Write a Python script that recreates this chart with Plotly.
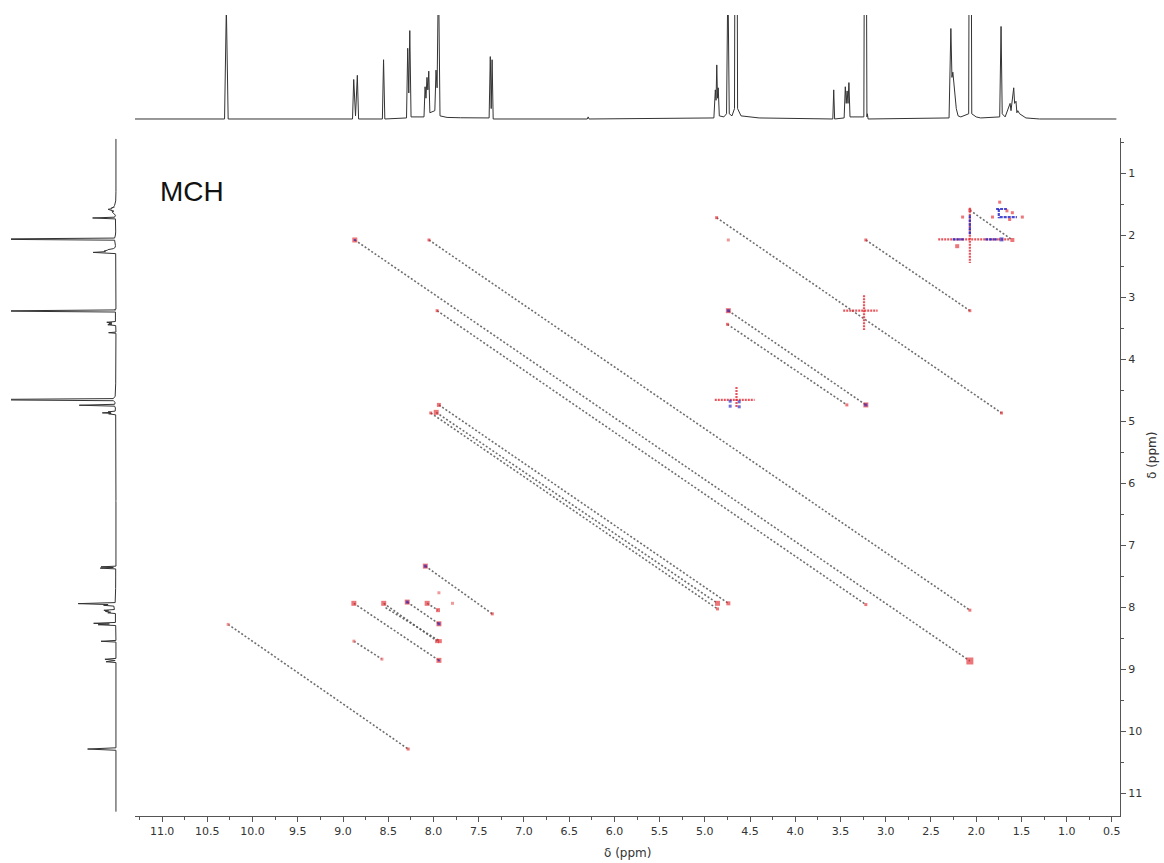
import plotly.graph_objects as go

W, H = 1164, 863

# ---------------- 1D projection trace (ppm, intensity; 1.0 = top of upper panel) ----------------
spec_ppm = [11.30, 10.31, 10.29, 10.27,
            8.895, 8.882, 8.862, 8.842, 8.828,
            8.565, 8.552, 8.538,
            8.298, 8.285, 8.273, 8.262, 8.248,
            8.105, 8.093, 8.083, 8.072, 8.062, 8.052, 8.040, 7.985, 7.972, 7.960, 7.945, 7.928,
            7.85, 7.70, 7.50,
            7.385, 7.372, 7.362, 7.352, 7.340,
            6.30, 6.29, 6.28,
            4.90, 4.884, 4.876, 4.868, 4.860, 4.852, 4.840, 4.790, 4.760, 4.745, 4.730, 4.700,
            4.672, 4.655, 4.638, 4.60, 4.40,
            3.585, 3.575, 3.565,
            3.46, 3.447, 3.437, 3.427, 3.417, 3.407, 3.395,
            3.242, 3.225, 3.208, 3.203, 3.195,
            2.30, 2.280, 2.268, 2.258, 2.245, 2.235, 2.220, 2.200, 2.170,
            2.083, 2.066, 2.049, 2.00, 1.95,
            1.74, 1.725, 1.712, 1.68,
            1.625, 1.615, 1.585, 1.575, 1.560, 1.550, 1.540, 1.520, 1.500, 1.45, 1.30, 0.45]
spec_int = [0.0, 0.0, 1.08, 0.0,
            0.0, 0.38, 0.03, 0.42, 0.0,
            0.0, 0.57, 0.0,
            0.01, 0.68, 0.25, 0.85, 0.02,
            0.02, 0.31, 0.20, 0.40, 0.28, 0.46, 0.06, 0.08, 0.47, 0.30, 1.44, 0.03,
            0.015, 0.012, 0.01,
            0.01, 0.60, 0.10, 0.57, 0.0,
            0.0, 0.02, 0.0,
            0.01, 0.28, 0.18, 0.52, 0.20, 0.30, 0.03, 0.02, 0.05, 1.40, 0.05, 0.03,
            0.10, 6.0, 0.10, 0.03, 0.01,
            0.0, 0.28, 0.0,
            0.01, 0.31, 0.15, 0.27, 0.15, 0.35, 0.02,
            0.02, 5.0, 0.02, 0.05, 0.0,
            0.01, 0.87, 0.40, 0.45, 0.33, 0.30, 0.10, 0.03, 0.02,
            0.05, 5.5, 0.05, 0.02, 0.01,
            0.02, 0.89, 0.05, 0.02,
            0.15, 0.08, 0.30, 0.15, 0.17, 0.06, 0.08, 0.05, 0.04, 0.01, 0.0, 0.0]

# ---------------- 2D cross peaks ----------------
pos_x = [8.87, 8.05, 7.96, 7.94, 7.97, 8.03, 4.74, 4.75, 3.22, 3.43, 3.22, 2.07, 2.07, 2.07,
         3.22, 4.74, 4.86, 4.86, 4.87, 1.72, 8.09, 7.35, 8.88, 7.94, 8.55, 7.96, 7.93, 8.29,
         7.94, 8.07, 7.95, 8.28, 2.07, 1.60, 1.66, 1.60, 1.63, 1.49, 1.82, 2.15, 1.74, 2.21]
pos_y = [2.08, 2.08, 3.22, 4.74, 4.86, 4.87, 3.22, 3.44, 4.74, 4.74, 2.08, 3.22, 8.05, 8.87,
         7.96, 7.94, 7.94, 8.03, 1.72, 4.87, 7.34, 8.11, 7.94, 8.86, 7.94, 8.55, 8.55, 7.92,
         8.27, 7.94, 8.05, 10.29, 1.60, 2.08, 1.61, 1.64, 1.75, 1.71, 1.71, 1.71, 1.47, 2.18]
pos_size = [5, 3, 3, 4, 5, 3, 5, 3, 5, 3, 3, 3, 3, 7,
            3, 4, 5, 3, 3, 3, 5, 3, 5, 5, 5, 4, 4, 5,
            5, 5, 4, 3, 3, 4, 3, 3, 3, 3, 3, 3, 3, 4]

faint_x = [8.88, 8.57, 7.79, 7.94, 10.27, 4.74]
faint_y = [8.55, 8.84, 7.94, 7.77, 8.28, 2.08]

neg_x = [8.87, 4.74, 3.22, 8.09, 8.29, 7.94, 7.94, 1.72, 4.72, 4.62, 4.72, 4.62]
neg_y = [2.08, 3.22, 4.74, 7.34, 7.92, 8.27, 8.86, 2.07, 4.68, 4.69, 4.76, 4.77]
neg_size = [2, 3, 3, 3, 3, 3, 2, 4, 3, 3, 3, 3]

# t1-noise streaks through the strong diagonal peaks (x0, y0, x1, y1)
streak_x0 = [2.07, 2.42, 3.24, 3.47, 4.65, 4.89]
streak_y0 = [1.56, 2.07, 2.97, 3.22, 4.45, 4.66]
streak_x1 = [2.07, 1.63, 3.24, 3.09, 4.65, 4.45]
streak_y1 = [2.45, 2.07, 3.53, 3.22, 4.79, 4.66]

# negative (blue) contour segments
blue_x0 = [2.07, 2.26, 1.90, 1.78, 1.75, 1.74]
blue_y0 = [1.68, 2.07, 2.07, 1.58, 1.58, 1.71]
blue_x1 = [2.07, 2.13, 1.76, 1.66, 1.75, 1.55]
blue_y1 = [2.00, 2.07, 2.07, 1.58, 1.73, 1.71]

# dashed connectors between symmetric cross peaks
link_x1 = [8.87, 8.05, 7.96, 7.94, 7.97, 8.03, 4.87, 3.22, 4.74, 4.75, 2.07, 10.27, 8.09, 8.88, 8.55, 8.53, 8.29, 8.07, 8.88]
link_y1 = [2.08, 2.08, 3.22, 4.74, 4.86, 4.87, 1.72, 2.08, 3.22, 3.44, 1.60, 8.28, 7.34, 7.94, 7.94, 8.01, 7.92, 7.94, 8.55]
link_x2 = [2.07, 2.07, 3.22, 4.74, 4.86, 4.86, 1.72, 2.07, 3.22, 3.43, 1.60, 8.28, 7.35, 7.94, 7.96, 7.93, 7.94, 7.95, 8.57]
link_y2 = [8.87, 8.05, 7.96, 7.94, 7.94, 8.03, 4.87, 3.22, 4.74, 4.74, 2.08, 10.29, 8.11, 8.86, 8.55, 8.55, 8.27, 8.05, 8.84]

X_RANGE = [11.30, 0.41]
Y_RANGE = [11.37, 0.435]


def segs(x0, y0, x1, y1):
    xs, ys = [], []
    for a, b, c, d in zip(x0, y0, x1, y1):
        xs += [a, c, None]
        ys += [b, d, None]
    return xs, ys


fig = go.Figure()

# dashed connectors
lx, ly = segs(link_x1, link_y1, link_x2, link_y2)
fig.add_trace(go.Scatter(x=lx, y=ly, mode="lines", hoverinfo="skip",
                         line=dict(color="rgba(85,85,85,0.85)", width=1.6, dash="2px,2px"),
                         xaxis="x", yaxis="y", showlegend=False))
# streaks
sx, sy = segs(streak_x0, streak_y0, streak_x1, streak_y1)
fig.add_trace(go.Scatter(x=sx, y=sy, mode="lines", hoverinfo="skip",
                         line=dict(color="rgba(228,40,50,0.8)", width=2.2, dash="2px,1px"),
                         xaxis="x", yaxis="y", showlegend=False))
# negative contour segments
bx, by = segs(blue_x0, blue_y0, blue_x1, blue_y1)
fig.add_trace(go.Scatter(x=bx, y=by, mode="lines", hoverinfo="skip",
                         line=dict(color="rgba(40,40,200,0.85)", width=2.2, dash="3px,1px"),
                         xaxis="x", yaxis="y", showlegend=False))
# positive peaks
fig.add_trace(go.Scatter(x=pos_x, y=pos_y, mode="markers", hoverinfo="skip",
                         marker=dict(color="rgba(226,38,44,0.9)", size=pos_size, symbol="square",
                                     line=dict(width=0)),
                         xaxis="x", yaxis="y", showlegend=False))
fig.add_trace(go.Scatter(x=faint_x, y=faint_y, mode="markers", hoverinfo="skip",
                         marker=dict(color="rgba(235,110,110,0.7)", size=3, symbol="square",
                                     line=dict(width=0)),
                         xaxis="x", yaxis="y", showlegend=False))
fig.add_trace(go.Scatter(x=neg_x, y=neg_y, mode="markers", hoverinfo="skip",
                         marker=dict(color="rgba(40,40,190,0.95)", size=neg_size, symbol="square",
                                     line=dict(width=0)),
                         xaxis="x", yaxis="y", showlegend=False))

# top projection
fig.add_trace(go.Scatter(x=spec_ppm, y=spec_int, mode="lines", hoverinfo="skip",
                         line=dict(color="#333333", width=1),
                         xaxis="x2", yaxis="y2", showlegend=False))
# left projection (same data, rotated)
fig.add_trace(go.Scatter(x=spec_int, y=spec_ppm, mode="lines", hoverinfo="skip",
                         line=dict(color="#333333", width=1),
                         xaxis="x3", yaxis="y3", showlegend=False))

x_dom = [135 / W, 1120 / W]
y_dom = [1 - 816 / H, 1 - 138 / H]
tickfont = dict(family="DejaVu Sans, Verdana, sans-serif", size=11, color="#333333")

fig.update_layout(
    width=W, height=H, autosize=False,
    margin=dict(l=0, r=0, t=0, b=0),
    paper_bgcolor="white", plot_bgcolor="white",
    xaxis=dict(domain=x_dom, range=X_RANGE, anchor="y", side="bottom",
               showline=True, linecolor="#555555", linewidth=1,
               ticks="outside", ticklen=5, tickcolor="#555555", tickwidth=1,
               dtick=0.5, tick0=0, tickformat=".1f", tickfont=tickfont,
               minor=dict(dtick=0.25, ticks="outside", ticklen=3, tickcolor="#555555"),
               showgrid=False, zeroline=False),
    yaxis=dict(domain=y_dom, range=Y_RANGE, anchor="x", side="right",
               showline=True, linecolor="#555555", linewidth=1,
               ticks="outside", ticklen=5, tickcolor="#555555", tickwidth=1,
               dtick=1, tick0=0, tickfont=tickfont,
               minor=dict(dtick=0.5, ticks="outside", ticklen=3, tickcolor="#555555"),
               showgrid=False, zeroline=False),
    xaxis2=dict(domain=x_dom, range=X_RANGE, anchor="y2", visible=False),
    yaxis2=dict(domain=[1 - 121 / H, 1 - 15 / H], range=[-0.0193, 1.0], anchor="x2", visible=False),
    xaxis3=dict(domain=[11 / W, 117 / W], range=[4.0, -0.04], anchor="y3", visible=False),
    yaxis3=dict(domain=y_dom, range=Y_RANGE, anchor="x3", visible=False),
    annotations=[
        dict(text="MCH", xref="paper", yref="paper", x=158 / W, y=1 - 191 / H,
             xanchor="left", yanchor="middle", showarrow=False,
             font=dict(family="Liberation Sans, Arial, sans-serif", size=28, color="#111111")),
        dict(text="δ (ppm)", xref="paper", yref="paper", x=627 / W, y=1 - 853 / H,
             xanchor="center", yanchor="middle", showarrow=False,
             font=dict(family="DejaVu Sans, Verdana, sans-serif", size=12, color="#333333")),
        dict(text="δ (ppm)", xref="paper", yref="paper", x=1152 / W, y=1 - 456 / H,
             xanchor="center", yanchor="middle", showarrow=False, textangle=-90,
             font=dict(family="DejaVu Sans, Verdana, sans-serif", size=12, color="#333333")),
    ],
)

fig.write_html("out.html")
